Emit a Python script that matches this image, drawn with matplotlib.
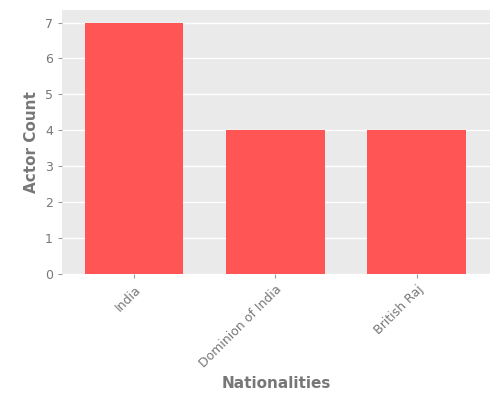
import matplotlib.pyplot as plt

nationalities = ["India", "Dominion of India", "British Raj"]
actor_counts = [7, 4, 4]

fig = plt.figure(figsize=(5, 4), dpi=100)
ax = fig.add_axes([0.124, 0.315, 0.856, 0.66])
ax.set_facecolor("#EAEAEA")

ax.bar(nationalities, actor_counts, width=0.7, color="#FF5555", zorder=2)

ax.set_ylim(0, 7.35)
ax.set_xlim(-0.51, 2.52)
ax.set_yticks(range(8))
ax.grid(axis="y", color="white", linewidth=1, zorder=1)
for s in ax.spines.values():
    s.set_visible(False)

ax.tick_params(colors="#777777", labelsize=9, length=3, color="#999999")
plt.setp(ax.get_xticklabels(), rotation=45, ha="right", rotation_mode="anchor", color="#777777")
plt.setp(ax.get_yticklabels(), color="#777777")

ax.set_xlabel("Nationalities", fontsize=11, color="#777777", fontweight="bold", labelpad=4)
ax.set_ylabel("Actor Count", fontsize=11, color="#777777", fontweight="bold")

fig.savefig("out.png", dpi=100)
